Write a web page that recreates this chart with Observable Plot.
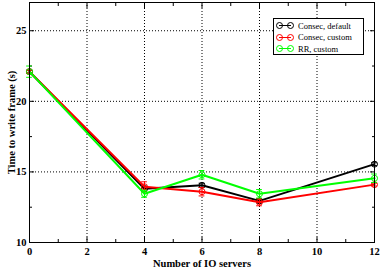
<!DOCTYPE html>
<html>
<head>
<meta charset="utf-8">
<script src="https://cdn.jsdelivr.net/npm/d3@7"></script>
<script src="https://cdn.jsdelivr.net/npm/@observablehq/plot@0.6"></script>
<style>
  html, body { margin: 0; padding: 0; background: #fff; }
  #wrap { position: relative; width: 381px; height: 267px; }
  #legend { position: absolute; left: 273px; top: 18px; width: 91px; height: 37px;
    border: 1px solid #000; background: #fff; box-sizing: border-box;
    font-family: "Liberation Serif", serif; font-size: 8.5px; }
  .row { position: absolute; left: 2px; height: 11px; display: flex; align-items: center; }
  .row svg { margin-right: 4px; }
</style>
</head>
<body>
<div id="wrap"></div>
<script>
const servers = [0, 4, 6, 8, 12];
const seriesNames = ["Consec, default", "Consec, custom", "RR, custom"];
const seriesColors = ["#000000", "#ff0000", "#00ff00"];
const consecDefault = [22.1, 13.8, 14.05, 12.95, 15.55];
const consecDefaultErr = [0.1, 0.2, 0.15, 0.15, 0.1];
const consecCustom = [22.1, 13.95, 13.6, 12.85, 14.1];
const consecCustomErr = [0.1, 0.35, 0.3, 0.25, 0.1];
const rrCustom = [22.1, 13.45, 14.8, 13.45, 14.55];
const rrCustomErr = [0.4, 0.25, 0.3, 0.3, 0.3];
const xTicks = [0, 2, 4, 6, 8, 10, 12];
const xMinor = [1, 3, 5, 7, 9, 11];
const yTicks = [10, 15, 20, 25];
const yMinor = [12.5, 17.5, 22.5];

const vals = [consecDefault, consecCustom, rrCustom];
const errs = [consecDefaultErr, consecCustomErr, rrCustomErr];
const data = [];
seriesNames.forEach((s, i) => servers.forEach((x, j) =>
  data.push({series: s, x, y: vals[i][j], lo: vals[i][j] - errs[i][j], hi: vals[i][j] + errs[i][j]})));

const font = "Liberation Serif, Times New Roman, serif";
const marks = [
  Plot.gridX([2, 4, 6, 8, 10], {stroke: "#000", strokeOpacity: 1, strokeDasharray: "1,2"}),
  Plot.gridY([15, 20, 25], {stroke: "#000", strokeOpacity: 1, strokeDasharray: "1,2"}),
  Plot.axisX(xTicks, {anchor: "bottom", tickSize: -5, text: null, label: null}),
  Plot.axisX(xMinor, {anchor: "bottom", tickSize: -3, text: null, label: null}),
  Plot.axisX(xTicks, {anchor: "top", tickSize: -5, text: null, label: null}),
  Plot.axisX(xMinor, {anchor: "top", tickSize: -3, text: null, label: null}),
  Plot.axisY(yTicks, {anchor: "left", tickSize: -5, text: null, label: null}),
  Plot.axisY(yMinor, {anchor: "left", tickSize: -3, text: null, label: null}),
  Plot.axisY(yTicks, {anchor: "right", tickSize: -5, text: null, label: null}),
  Plot.axisY(yMinor, {anchor: "right", tickSize: -3, text: null, label: null}),
  Plot.axisX(xTicks, {anchor: "bottom", tickSize: 0, tickPadding: 5, fontSize: 10.5, fontWeight: "bold",
    label: "Number of IO servers", labelAnchor: "center", labelArrow: "none", labelOffset: 24}),
  Plot.axisY(yTicks, {anchor: "left", tickSize: 0, tickPadding: 3, fontSize: 10.5, fontWeight: "bold",
    label: "Time to write frame (s)", labelAnchor: "center", labelArrow: "none", labelOffset: 22}),
];
seriesNames.forEach((s, i) => {
  const d = data.filter(r => r.series === s);
  const c = seriesColors[i];
  marks.push(
    Plot.line(d, {x: "x", y: "y", stroke: c, strokeWidth: 2}),
    Plot.ruleX(d, {x: "x", y1: "lo", y2: "hi", stroke: c, strokeWidth: 1}),
    Plot.ruleY(d, {y: "lo", x1: r => r.x - 0.1, x2: r => r.x + 0.1, stroke: c, strokeWidth: 1}),
    Plot.ruleY(d, {y: "hi", x1: r => r.x - 0.1, x2: r => r.x + 0.1, stroke: c, strokeWidth: 1}),
    Plot.dot(d, {x: "x", y: "y", r: 3, stroke: c, strokeWidth: 1, fill: "none"})
  );
});

const chart = Plot.plot({
  width: 381, height: 267,
  marginLeft: 29, marginRight: 7, marginTop: 2, marginBottom: 25,
  style: {fontFamily: font, fontSize: "11.5px", color: "#000", background: "#fff"},
  x: {type: "linear", domain: [0, 12]},
  y: {type: "linear", domain: [10, 27]},
  marks: [...marks, Plot.frame({stroke: "#000", strokeWidth: 1})]
});
document.getElementById("wrap").appendChild(chart);

// legend
const leg = document.createElement("div");
leg.id = "legend";
seriesNames.forEach((s, i) => {
  const row = document.createElement("div");
  row.className = "row";
  row.style.top = (1 + i * 11.5) + "px";
  row.innerHTML = `<svg width="18" height="9"><line x1="3" x2="15" y1="4.5" y2="4.5" stroke="${seriesColors[i]}" stroke-width="1"/>
    <circle cx="3.5" cy="4.5" r="3" fill="none" stroke="${seriesColors[i]}"/>
    <circle cx="14.5" cy="4.5" r="3" fill="none" stroke="${seriesColors[i]}"/></svg><span>${s}</span>`;
  leg.appendChild(row);
});
document.getElementById("wrap").appendChild(leg);
</script>
</body>
</html>
